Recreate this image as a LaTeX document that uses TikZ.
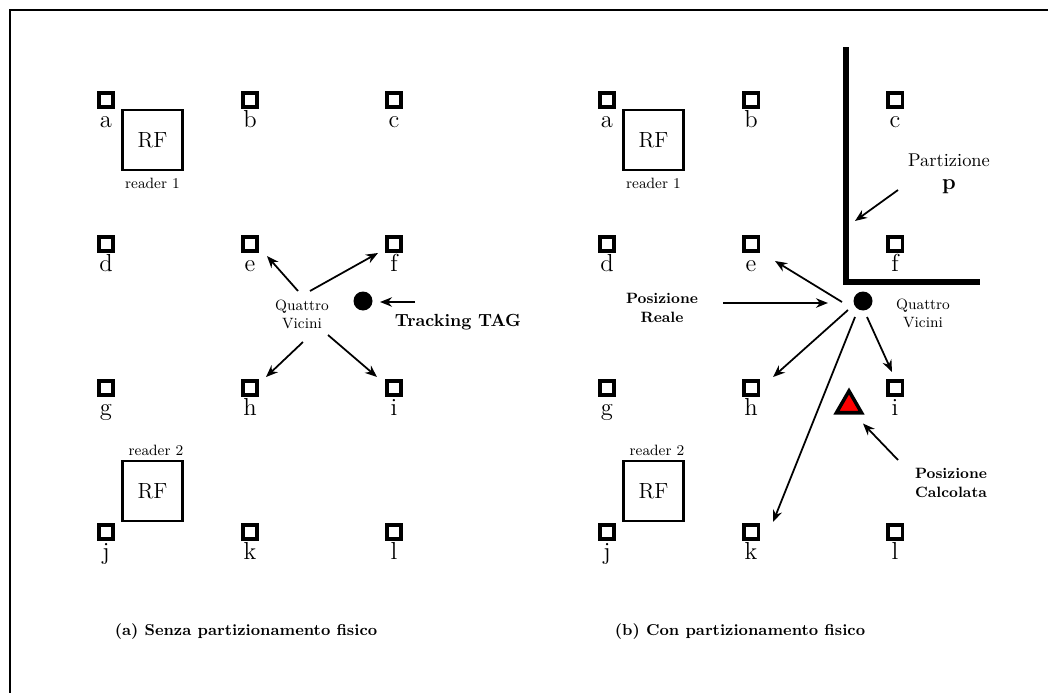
\documentclass[tikz,border=0pt]{standalone}
\usepackage{tikz}
\usetikzlibrary{arrows.meta,positioning,calc,shapes.geometric}
\tikzset{
  >={Stealth[length=2.4mm,width=1.9mm]},
  frame/.style={draw=black,line width=1.7pt},
  tagsq/.style={draw=black,line width=2pt,fill=white,minimum size=0.29cm,inner sep=0pt},
  lbl/.style={font=\fontsize{14}{16}\selectfont,anchor=base,inner sep=0pt},
  rfbox/.style={draw=black,line width=1.2pt,minimum size=1.2cm,inner sep=0pt,font=\fontsize{12.5}{14}\selectfont},
  rdlbl/.style={font=\fontsize{8.5}{10}\selectfont,inner sep=1pt},
  tagdot/.style={circle,fill=black,minimum size=0.38cm,inner sep=0pt},
  note/.style={font=\fontsize{8.5}{10.2}\selectfont,align=center},
  bnote/.style={font=\fontsize{8.5}{10.4}\selectfont\bfseries,align=center},
  subcap/.style={font=\fontsize{9}{11}\selectfont\bfseries},
  ptr/.style={->,line width=1pt},
  wall/.style={line width=3.4pt},
}
\newcommand{\tagsq}[3]{\node[tagsq] (#1) at (#2) {};\node[lbl] at ($(#1)+(0,27)$) {#3};}

\begin{document}
\begin{tikzpicture}[x=0.02cm,y=-0.02cm]
  \useasboundingbox (0,0) rectangle (1048,693);
  \draw[frame] (10,693) |- (1048,10);

  % (a) senza partizione
  \tagsq{a1}{106,100}{a}\tagsq{b1}{250,100}{b}\tagsq{c1}{394,100}{c}
  \tagsq{d1}{106,244}{d}\tagsq{e1}{250,244}{e}\tagsq{f1}{394,244}{f}
  \tagsq{g1}{106,388}{g}\tagsq{h1}{250,388}{h}\tagsq{i1}{394,388}{i}
  \tagsq{j1}{106,532}{j}\tagsq{k1}{250,532}{k}\tagsq{l1}{394,532}{l}
  \node[rfbox] (rf1a) at (152.5,140) {RF};
  \node[rdlbl,below=0.1cm of rf1a] {reader 1};
  \node[rfbox] (rf2a) at (152.5,491) {RF};
  \node[rdlbl,above=1pt of rf2a,xshift=2pt] {reader 2};
  \node[tagdot] (dot1) at (363,301) {};
  \node[note] (qv1) at (302,314) {Quattro\\Vicini};
  \node[font=\fontsize{10}{12}\selectfont\bfseries] (tt1) at (458,322) {Tracking TAG};
  \draw[ptr] ($(qv1)+(-4,-23)$) -- ($(e1)+(17,12)$);
  \draw[ptr] ($(qv1)+(8,-23)$) -- ($(f1)+(-16,9)$);
  \draw[ptr] ($(qv1)+(1,28)$) -- ($(h1)+(16,-11)$);
  \draw[ptr] ($(qv1)+(26,21)$) -- ($(i1)+(-17,-11)$);
  \draw[ptr] ($(tt1)+(-43,-20)$) -- ($(dot1)+(17,1)$);
  \node[subcap] (cap1) at (246,632) {(a) Senza partizionamento fisico};

  % (b) con partizione
  \tagsq{a2}{607,100}{a}\tagsq{b2}{751,100}{b}\tagsq{c2}{895,100}{c}
  \tagsq{d2}{607,244}{d}\tagsq{e2}{751,244}{e}\tagsq{f2}{895,244}{f}
  \tagsq{g2}{607,388}{g}\tagsq{h2}{751,388}{h}\tagsq{i2}{895,388}{i}
  \tagsq{j2}{607,532}{j}\tagsq{k2}{751,532}{k}\tagsq{l2}{895,532}{l}
  \node[rfbox] (rf1b) at (653.5,140) {RF};
  \node[rdlbl,below=0.1cm of rf1b] {reader 1};
  \node[rfbox] (rf2b) at (653.5,491) {RF};
  \node[rdlbl,above=1pt of rf2b,xshift=2pt] {reader 2};
  \draw[wall] (846,47) |- (980,282);
  \coordinate (wallp) at (855,221);
  \node[font=\fontsize{10.5}{13}\selectfont,align=center] (pt2) at (949,174) {Partizione\\{\fontsize{12.5}{13}\selectfont\bfseries p}};
  \node[tagdot] (dot2) at (863,301) {};
  \node[note] (qv2) at (923,313) {Quattro\\Vicini};
  \node[bnote] (pr2) at (662,308) {Posizione\\Reale};
  \node[regular polygon,regular polygon sides=3,draw=black,fill=red,line width=2pt,minimum size=0.58cm,inner sep=0pt] (tri) at (849,405.5) {};
  \node[bnote] (pc2) at (951,483) {Posizione\\Calcolata};
  \draw[ptr] ($(dot2)+(-21,1)$) -- ($(e2)+(24,17)$);
  \draw[ptr] ($(dot2)+(-15,9)$) -- ($(h2)+(22,-11)$);
  \draw[ptr] ($(dot2)+(4,16)$) -- ($(i2)+(-3,-16)$);
  \draw[ptr] ($(dot2)+(-8,16)$) -- ($(k2)+(22,-10)$);
  \draw[ptr] ($(pr2)+(61,-5)$) -- ($(dot2)+(-35,2)$);
  \draw[ptr] ($(pt2)+(-51,16)$) -- (wallp);
  \draw[ptr] ($(pc2)+(-53,-23)$) -- ($(tri)+(14,18)$);
  \node[subcap] (cap2) at (740,632) {(b) Con partizionamento fisico};
\end{tikzpicture}
\end{document}
